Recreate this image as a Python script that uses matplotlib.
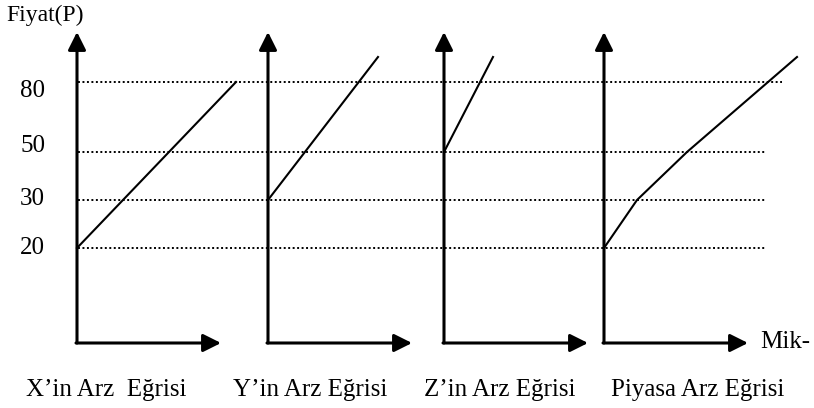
import numpy as np
import matplotlib
matplotlib.use("Agg")
import matplotlib.pyplot as plt

# price levels marked on the left
price_levels = [20, 30, 50, 80]
price_labels = ["20", "30", "50", "80"]

# supply curves, price -> quantity (schematic units)
x_price = [20, 80]
x_qty = [0, 159]
y_price = [30, 90]
y_qty = [0, 110]
z_price = [50, 90]
z_qty = [0, 49]
market_price = [20, 30, 50, 90]
market_qty = [0, 33, 83, 193]

panel_titles = ["X’in Arz  Eğrisi", "Y’in Arz Eğrisi", "Z’in Arz Eğrisi", "Piyasa Arz Eğrisi"]
y_title = "Fiyat(P)"
x_title = "Mik-"

# layout (pixels)
W, H = 814, 408
origins = [77, 268, 444, 604]
arrow_len = 144
y_bottom, y_top = 343, 32
# the price axis is not drawn to scale in the original
scale_p = [0, 20, 30, 50, 80, 90, 100]
scale_pos = [0, 95, 143, 191, 261, 286, 311]


def fwd(p):
    return np.interp(p, scale_p, scale_pos)


def inv(v):
    return np.interp(v, scale_pos, scale_p)


plt.rcParams["font.family"] = ["Liberation Serif", "DejaVu Serif"]

fig = plt.figure(figsize=(W / 100, H / 100), dpi=100)
ax = fig.add_axes([0, (H - y_bottom) / H, 1, (y_bottom - y_top) / H])
ax.set_xlim(0, W)
ax.set_yscale("function", functions=(fwd, inv))
ax.set_ylim(0, 100)
ax.axis("off")

arrow = dict(arrowstyle="-|>,head_length=0.4,head_width=0.2", color="black",
             lw=2.2, mutation_scale=27, shrinkA=0, shrinkB=0)
for ox in origins:
    ax.annotate("", xy=(ox, 100), xytext=(ox, 0), arrowprops=arrow, annotation_clip=False)
    ax.annotate("", xy=(ox + arrow_len, 0), xytext=(ox - 1, 0), arrowprops=arrow,
                annotation_clip=False)

# dotted guide lines
ax.hlines(price_levels, origins[0] + 1, [765, 765, 765, 782], colors="black",
          linestyles=(0, (1.0, 1.3)), lw=1.4, clip_on=False)

curves = [(x_qty, x_price), (y_qty, y_price), (z_qty, z_price), (market_qty, market_price)]
for ox, (q, p) in zip(origins, curves):
    ax.plot(ox + np.array(q), p, color="black", lw=1.5, clip_on=False)

# price labels (positions are a little off the lines in the original)
label_shift = [0, 1, 6, -9]
for lvl, lab, dy in zip(price_levels, price_labels, label_shift):
    ax.annotate(lab, xy=(20, lvl), xytext=(0, dy), textcoords="offset pixels",
                ha="left", va="center", fontsize=18, annotation_clip=False)

fig.text(6 / W, 1 - 15 / H, y_title, ha="left", va="center", fontsize=17)
fig.text(760 / W, 1 - 342 / H, x_title, ha="left", va="center", fontsize=18)
for cx, t in zip([106, 310, 500, 698], panel_titles):
    fig.text(cx / W, 1 - 390 / H, t, ha="center", va="center", fontsize=18)

fig.savefig("out.png", dpi=100)
